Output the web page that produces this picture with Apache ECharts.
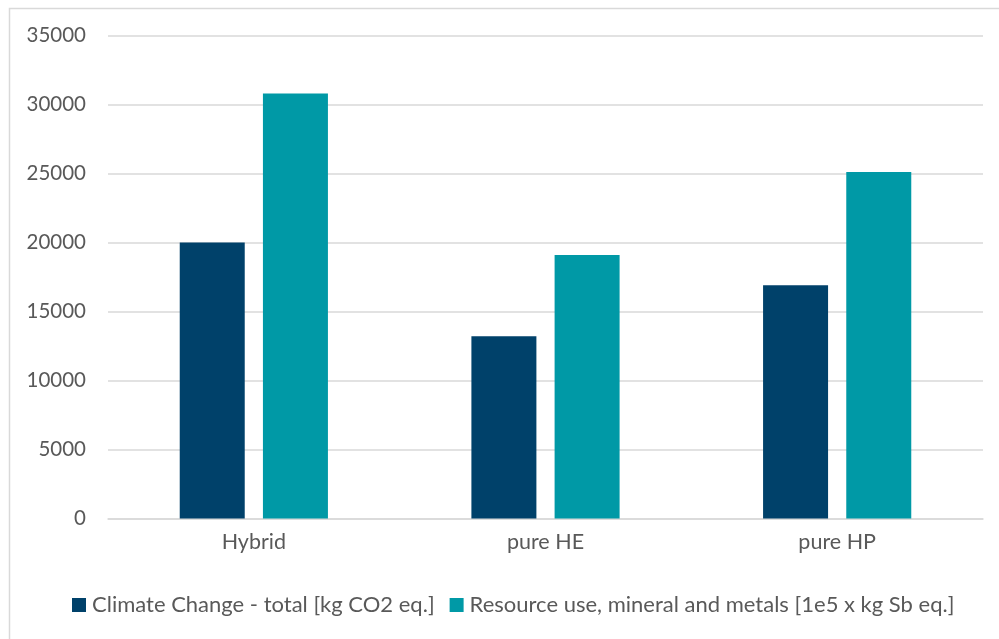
<!DOCTYPE html>
<html>
<head>
<meta charset="utf-8">
<script src="https://cdn.jsdelivr.net/npm/echarts@6/dist/echarts.min.js"></script>
<style>
  html, body { margin: 0; padding: 0; background: #ffffff; }
  #chart { width: 999px; height: 639px; }
</style>
</head>
<body>
<div id="chart"></div>
<script>
// Scenario categories and impact indicators
const categories = ['Hybrid', 'pure HE', 'pure HP'];
const climateChange = [20000, 13200, 16900];
const resourceUse = [30800, 19100, 25100];
const seriesNames = [
  'Climate Change - total [kg CO2 eq.]',
  'Resource use, mineral and metals [1e5 x kg Sb eq.]'
];
const yTicks = { min: 0, max: 35000, interval: 5000 };

const textColor = '#595959';
const fontFamily = 'Lato, "Open Sans", sans-serif';

const chart = echarts.init(document.getElementById('chart'), null, { renderer: 'canvas' });
chart.setOption({
  animation: false,
  backgroundColor: '#ffffff',
  textStyle: { fontFamily: fontFamily, color: textColor },
  graphic: [{
    type: 'rect',
    left: 7, top: 6,
    shape: { width: 1010, height: 660 },
    style: { fill: 'none', stroke: '#d9d9d9', lineWidth: 1.5 },
    silent: true
  }],
  grid: { left: 108, right: 16, top: 35.5, bottom: 120.5, containLabel: false },
  legend: {
    top: 589,
    left: 67,
    itemWidth: 14,
    itemHeight: 14,
    itemGap: 15,
    icon: 'rect',
    textStyle: { fontFamily: fontFamily, fontSize: 22, color: textColor, padding: [0, 0, 0, 1] },
    data: seriesNames
  },
  xAxis: {
    type: 'category',
    data: categories,
    axisLine: { show: true, lineStyle: { color: '#d9d9d9', width: 1.5 } },
    axisTick: { show: false },
    axisLabel: { fontSize: 21.5, color: textColor, margin: 13, fontFamily: fontFamily }
  },
  yAxis: {
    type: 'value',
    min: yTicks.min,
    max: yTicks.max,
    interval: yTicks.interval,
    axisLine: { show: false },
    axisTick: { show: false },
    axisLabel: {
      fontSize: 20.5, color: textColor, margin: 22, fontFamily: fontFamily,
      formatter: (v) => String(v)
    },
    splitLine: { lineStyle: { color: '#d9d9d9', width: 1.5 } }
  },
  series: [
    {
      name: seriesNames[0],
      type: 'bar',
      data: climateChange,
      barWidth: 65,
      barGap: '28%',
      itemStyle: { color: '#00416A' }
    },
    {
      name: seriesNames[1],
      type: 'bar',
      data: resourceUse,
      barWidth: 65,
      barGap: '28%',
      itemStyle: { color: '#0099A6' }
    }
  ]
});
</script>
</body>
</html>
